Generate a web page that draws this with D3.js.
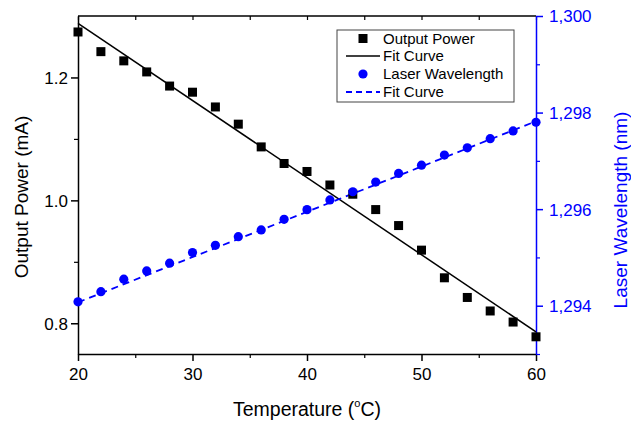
<!DOCTYPE html>
<html><head><meta charset="utf-8">
<script src="https://cdn.jsdelivr.net/npm/d3@7"></script>
<style>body{margin:0;background:#fff}svg{display:block}text{font-family:"Liberation Sans",Arial,sans-serif}</style>
</head><body><div id="c"></div>
<script>
const temps = [20,22,24,26,28,30,32,34,36,38,40,42,44,46,48,50,52,54,56,58,60];
const power = [1.274,1.242,1.227,1.209,1.186,1.176,1.152,1.124,1.087,1.060,1.047,1.025,1.010,0.985,0.959,0.919,0.874,0.842,0.820,0.802,0.778];
const wavelength = [1294.08,1294.29,1294.55,1294.72,1294.88,1295.10,1295.25,1295.43,1295.57,1295.79,1295.99,1296.19,1296.36,1296.56,1296.74,1296.91,1297.12,1297.27,1297.46,1297.62,1297.80];
const powerFitT = [20,60];
const powerFit = [1.288,0.786];
const waveFitT = [20,60];
const waveFit = [1294.07,1297.82];
const xTicks = [20,30,40,50,60];
const xMinor = [25,35,45,55];
const yLeftTicks = [0.8,1.0,1.2];
const yLeftMinor = [0.9,1.1];
const yRightTicks = [1294,1296,1298,1300];
const yRightMinor = [1293,1295,1297,1299];
const legendLabels = ["Output Power","Fit Curve","Laser Wavelength","Fit Curve"];
const xTitle = "Temperature (";
const yLeftTitle = "Output Power (mA)";
const yRightTitle = "Laser Wavelength (nm)";

const W=631,H=421;
const L=78,R=536,T=16,B=354;
const BLUE="#0000ff";
const svg=d3.select("#c").append("svg").attr("width",W).attr("height",H);
const x=d3.scaleLinear().domain([20,60]).range([L,R]);
const yL=d3.scaleLinear().domain([0.75,1.3]).range([B,T]);
const yR=d3.scaleLinear().domain([1293,1300]).range([B,T]);

svg.append("line").attr("x1",L).attr("x2",R).attr("y1",T).attr("y2",T).attr("stroke","#000").attr("stroke-width",1.5);
const topAx=d3.axisTop(x).tickValues(xTicks.concat(xMinor)).tickSize(-4).tickFormat("");
const gt=svg.append("g").attr("transform",`translate(0,${T})`).call(topAx);
gt.select(".domain").remove();
gt.selectAll("line").attr("stroke","#000").attr("stroke-width",1.2);

const gb=svg.append("g").attr("transform",`translate(0,${B})`).call(d3.axisBottom(x).tickValues(xTicks).tickSize(7).tickSizeOuter(0).tickFormat(d3.format("d")));
gb.select(".domain").attr("stroke","#000").attr("stroke-width",1.5);
gb.selectAll(".tick line").attr("stroke","#000").attr("stroke-width",1.5);
gb.selectAll("text").attr("font-size",17).attr("fill","#000").attr("dy",0).attr("y",26);
const gbm=svg.append("g").attr("transform",`translate(0,${B})`).call(d3.axisBottom(x).tickValues(xMinor).tickSize(4).tickFormat(""));
gbm.select(".domain").remove();
gbm.selectAll("line").attr("stroke","#000").attr("stroke-width",1.2);

const gl=svg.append("g").attr("transform",`translate(${L},0)`).call(d3.axisLeft(yL).tickValues(yLeftTicks).tickSize(7).tickSizeOuter(0).tickFormat(d3.format(".1f")));
gl.select(".domain").attr("stroke","#000").attr("stroke-width",1.5);
gl.selectAll(".tick line").attr("stroke","#000").attr("stroke-width",1.5);
gl.selectAll("text").attr("font-size",17).attr("fill","#000").attr("x",-10).attr("dy","0.35em");
const glm=svg.append("g").attr("transform",`translate(${L},0)`).call(d3.axisLeft(yL).tickValues(yLeftMinor).tickSize(4).tickFormat(""));
glm.select(".domain").remove();
glm.selectAll("line").attr("stroke","#000").attr("stroke-width",1.2);

const gr=svg.append("g").attr("transform",`translate(${R},0)`).call(d3.axisRight(yR).tickValues(yRightTicks).tickSize(7).tickSizeOuter(0).tickFormat(d3.format(",d")));
gr.select(".domain").attr("stroke",BLUE).attr("stroke-width",1.5);
gr.selectAll(".tick line").attr("stroke",BLUE).attr("stroke-width",1.5);
gr.selectAll("text").attr("font-size",17).attr("fill",BLUE).attr("x",13).attr("dy","0.35em");
const grm=svg.append("g").attr("transform",`translate(${R},0)`).call(d3.axisRight(yR).tickValues(yRightMinor).tickSize(4).tickFormat(""));
grm.select(".domain").remove();
grm.selectAll("line").attr("stroke",BLUE).attr("stroke-width",1.2);

const line=d3.line();
svg.append("path").attr("d",line(powerFitT.map((t,i)=>[x(t),yL(powerFit[i])]))).attr("stroke","#000").attr("stroke-width",1.5).attr("fill","none");
svg.append("path").attr("d",line(waveFitT.map((t,i)=>[x(t),yR(waveFit[i])]))).attr("stroke",BLUE).attr("stroke-width",1.8).attr("stroke-dasharray","7,5").attr("fill","none");

svg.selectAll("rect.p").data(temps).enter().append("rect").attr("class","p")
 .attr("x",(d)=>x(d)-4.5).attr("y",(d,i)=>yL(power[i])-4.5).attr("width",9).attr("height",9).attr("fill","#000");
svg.selectAll("circle.w").data(temps).enter().append("circle").attr("class","w")
 .attr("cx",d=>x(d)).attr("cy",(d,i)=>yR(wavelength[i])).attr("r",4.6).attr("fill",BLUE);

const lg=svg.append("g");
lg.append("rect").attr("x",337).attr("y",30).attr("width",177).attr("height",72).attr("fill","#fff").attr("stroke","#444").attr("stroke-width",1);
const ly=[38.5,56,74,92];
legendLabels.forEach((t,i)=>{
  lg.append("text").attr("x",383).attr("y",ly[i]).attr("dy","0.35em").attr("font-size",15).attr("fill","#000").text(t);
});
lg.append("rect").attr("x",358.5).attr("y",ly[0]-4.5).attr("width",9).attr("height",9).attr("fill","#000");
lg.append("line").attr("x1",346).attr("x2",380).attr("y1",ly[1]).attr("y2",ly[1]).attr("stroke","#000").attr("stroke-width",1.5);
lg.append("circle").attr("cx",363).attr("cy",ly[2]).attr("r",4.6).attr("fill",BLUE);
lg.append("line").attr("x1",346).attr("x2",380).attr("y1",ly[3]).attr("y2",ly[3]).attr("stroke",BLUE).attr("stroke-width",1.8).attr("stroke-dasharray","6,4");

const xt=svg.append("text").attr("x",(L+R)/2).attr("y",416).attr("text-anchor","middle").attr("font-size",19.5).attr("fill","#000");
xt.append("tspan").text(xTitle);
xt.append("tspan").attr("font-size",11).attr("dy",-9).text("o");
xt.append("tspan").attr("dy",9).text("C)");
svg.append("text").attr("transform","translate(28,197) rotate(-90)").attr("text-anchor","middle").attr("font-size",19).attr("fill","#000").text(yLeftTitle);
svg.append("text").attr("transform","translate(627,210) rotate(-90)").attr("text-anchor","middle").attr("font-size",19).attr("fill",BLUE).text(yRightTitle);
</script></body></html>
